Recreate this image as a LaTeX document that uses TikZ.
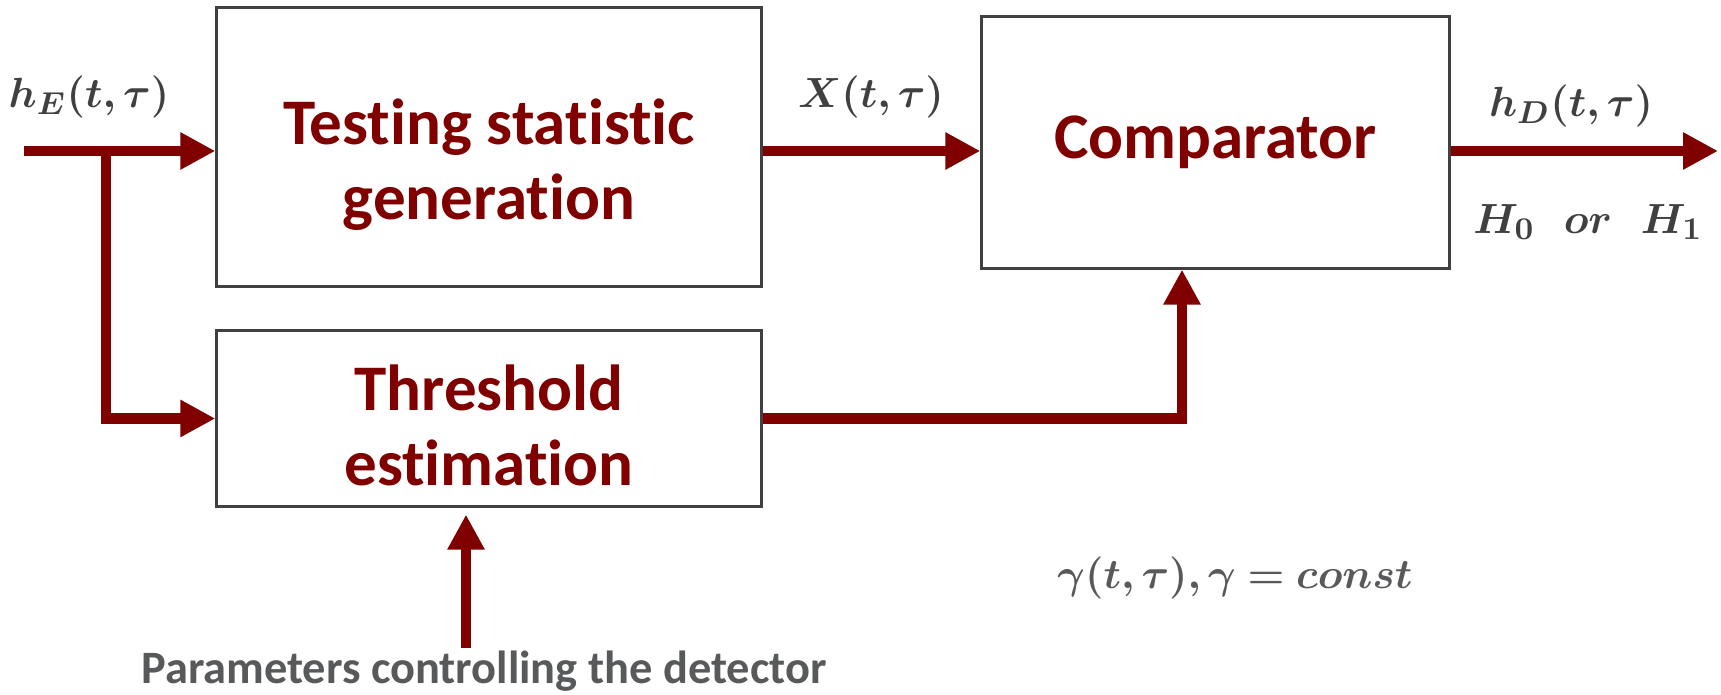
\documentclass[tikz,border=0pt]{standalone}
\usepackage{amsmath}
\usepackage{amssymb}
\usepackage{bm}
\usepackage{fontspec}
\newfontfamily\carlito[Ligatures=NoCommon]{Carlito}
\usepackage{tikz}
\usetikzlibrary{arrows.meta,positioning}

\definecolor{maroon}{RGB}{128,0,0}
\definecolor{boxgray}{RGB}{64,64,64}
\definecolor{labgray}{RGB}{88,89,91}

\begin{document}
\begin{tikzpicture}[%
            x=0.01cm, y=-0.01cm,
            >={Triangle[length=0.35cm,width=0.35cm]},
            block/.style={draw=boxgray, line width=0.85pt, inner sep=0pt,
                align=center, text=maroon,
                font=\carlito\bfseries\fontsize{18.5}{21.5}\selectfont},
            sig/.style={->, draw=maroon, line width=3.1pt},
            mlabel/.style={text=boxgray, font=\fontsize{12.5}{14}\selectfont}
            ]
            \useasboundingbox (0,0) rectangle (1721,695);

            % blocks
            \node[block, minimum width=5.44cm, minimum height=2.78cm] (tsg) at (489,147)
                {\rule{0pt}{23pt}Testing statistic\\generation};
            \node[block, minimum width=5.44cm, minimum height=1.75cm] (tse) at (489,418.5)
                {\rule{0pt}{17pt}Threshold\\estimation};
            \node[block, minimum width=4.67cm, minimum height=2.51cm] (cmp) at (1215.5,142.5)
                {Comparator};

            % free ends
            \coordinate (hin) at (24,151);
            \coordinate (split) at (106,151);
            \coordinate (hout) at (1718,151);
            \coordinate (gam) at (1182,418.5);
            \coordinate (pbase) at (466,648);

            % labels
            \node[mlabel] (hE) at (89,97) {$\bm{h_E(t,\tau)}$};
            \node[mlabel] (X) at (871,97) {$\bm{X(t,\tau)}$};
            \node[mlabel] (hD) at (1571,106) {$\bm{h_D(t,\tau)}$};
            \node[mlabel] (H) at (1588,222) {$\bm{H_0~~or~~H_1}$};
            \node[mlabel, text=labgray, font=\fontsize{13.2}{15}\selectfont]
                (g) at (1235,578) {$\bm{\gamma(t,\tau),\gamma=const}$};
            \node[text=labgray, font=\carlito\bfseries\fontsize{13.2}{15}\selectfont]
                (par) at (484,671) {Parameters controlling the detector};

            % signals
            \path[sig] (hin) -- (hin -| tsg.west);
            \path[sig] (split) |- (tse.west);
            \path[sig] (tsg.east |- hin) -- (cmp.west |- hin);
            \path[sig] (cmp.east |- hin) -- (hout);
            \path[sig] (tse.east) -- (gam) -- (gam |- cmp.south);
            \path[sig, shorten >=0.07cm] (pbase) -- (pbase |- tse.south);

        \end{tikzpicture}
\end{document}
